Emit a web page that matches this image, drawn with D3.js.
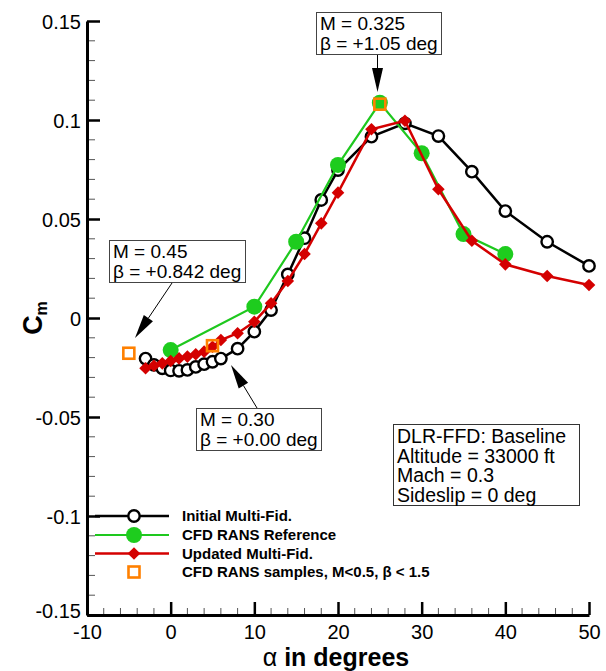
<!DOCTYPE html>
<html><head><meta charset="utf-8">
<script src="https://cdn.jsdelivr.net/npm/d3@7"></script>
<style>html,body{margin:0;padding:0;background:#fff;}svg{display:block;font-family:"Liberation Sans",Arial,sans-serif;}</style>
</head><body><svg id="c" width="606" height="671"></svg>
<script>
// ---- data ----
const initAlpha = [-3,-2,-1,0,1,2,3,4,5,6,8,10,12,14,16,18,20,24,28,32,36,40,45,50];
const initCm = [-0.0205,-0.0237,-0.0254,-0.0265,-0.0267,-0.0262,-0.0247,-0.0233,-0.0221,-0.0205,-0.0155,-0.0069,0.004,0.022,0.0403,0.0596,0.0747,0.0916,0.0983,0.0919,0.0739,0.054,0.0385,0.0263];
const cfdAlpha = [0,10,15,20,25,30,35,40];
const cfdCm = [-0.0162,0.0057,0.0385,0.0773,0.1087,0.0832,0.0424,0.0323];
const updAlpha = [-3,-2,-1,0,1,2,3,4,5,6,8,10,12,14,16,18,20,24,28,32,36,40,45,50];
const updCm = [-0.0254,-0.0241,-0.0229,-0.0217,-0.0204,-0.0195,-0.0183,-0.017,-0.0145,-0.0111,-0.0077,-0.0019,0.0074,0.0187,0.0323,0.0478,0.0633,0.0953,0.0996,0.065,0.039,0.0271,0.0212,0.0167];
const sampAlpha = [-5,5,25];
const sampCm = [-0.0178,-0.014,0.108];
const xTicks = [-10,0,10,20,30,40,50];
const yTicks = [-0.15,-0.1,-0.05,0,0.05,0.1,0.15];
const xTickLabels = ["-10","0","10","20","30","40","50"];
const yTickLabels = ["-0.15","-0.1","-0.05","0","0.05","0.1","0.15"];
const legendLabels = ["Initial Multi-Fid.","CFD RANS Reference","Updated Multi-Fid.","CFD RANS samples, M<0.5, \u03B2 < 1.5"];
const infoLines = ["DLR-FFD: Baseline","Altitude = 33000 ft","Mach = 0.3","Sideslip = 0 deg"];

const svg = d3.select("#c");
const x = d3.scaleLinear().domain([-10,50]).range([87,589]);
const y = d3.scaleLinear().domain([-0.15,0.15]).range([615,21]);

// minor ticks
const xMinor = d3.range(-10,50.01,2).filter(v=>xTicks.indexOf(v)<0);
const yMinor = d3.range(-15,15.01,1).map(v=>v/100).filter(v=>!yTicks.some(t=>Math.abs(t-v)<1e-9));
svg.append("g").selectAll("line").data(xMinor).join("line")
  .attr("x1",d=>x(d)).attr("x2",d=>x(d)).attr("y1",y(-0.15)).attr("y2",y(-0.15)-7)
  .attr("stroke","#555").attr("stroke-width",1);
svg.append("g").selectAll("line").data(yMinor).join("line")
  .attr("y1",d=>y(d)).attr("y2",d=>y(d)).attr("x1",x(-10)).attr("x2",x(-10)+8)
  .attr("stroke","#555").attr("stroke-width",1);

// axes via d3 axis (inward ticks)
const xAxis = svg.append("g").attr("transform",`translate(0,${y(-0.15)})`)
  .call(d3.axisTop(x).tickValues(xTicks).tickSize(13).tickSizeOuter(0).tickFormat((d,i)=>xTickLabels[i]));
xAxis.select(".domain").attr("stroke","#000").attr("stroke-width",3);
xAxis.selectAll(".tick line").attr("stroke","#000").attr("stroke-width",2.5);
xAxis.selectAll(".tick text").attr("y",23.5).attr("dy",0).attr("font-size",20)
  .attr("font-family","Liberation Sans, Arial, sans-serif").attr("fill","#000");

const yAxis = svg.append("g").attr("transform",`translate(${x(-10)},0)`)
  .call(d3.axisRight(y).tickValues(yTicks).tickSize(13).tickSizeOuter(0).tickFormat((d,i)=>yTickLabels[i]));
yAxis.select(".domain").attr("stroke","#000").attr("stroke-width",3);
yAxis.selectAll(".tick line").attr("stroke","#000").attr("stroke-width",2.5);
yAxis.selectAll(".tick text").attr("x",-6).attr("text-anchor","end").attr("dy","0.35em")
  .attr("font-size",20).attr("font-family","Liberation Sans, Arial, sans-serif").attr("fill","#000");
yAxis.selectAll(".tick").filter(d=>d===-0.15).select("text").attr("dy","0.1em");

// axis titles
svg.append("text").attr("x",336).attr("y",666).attr("text-anchor","middle")
  .attr("font-size",25).attr("font-weight","bold")
  .call(t=>{t.append("tspan").attr("font-weight","normal").text("\u03B1");t.append("tspan").text(" in degrees");});
const yl = svg.append("text").attr("transform","translate(42,318) rotate(-90)").attr("text-anchor","middle")
  .attr("font-size",27).attr("font-weight","bold");
yl.append("tspan").text("C");
yl.append("tspan").attr("font-size",16).attr("dy",5).text("m");

// series
const line = d3.line();
function pts(a,c){return a.map((v,i)=>[x(v),y(c[i])]);}
const dia = "M0,-6.3L6.3,0L0,6.3L-6.3,0Z";

// initial
svg.append("path").attr("d",line(pts(initAlpha,initCm))).attr("fill","none").attr("stroke","#000").attr("stroke-width",2.5);
svg.append("g").selectAll("circle").data(pts(initAlpha,initCm)).join("circle")
  .attr("cx",d=>d[0]).attr("cy",d=>d[1]).attr("r",5.7).attr("fill","#fff").attr("stroke","#000").attr("stroke-width",2.4);
// cfd
svg.append("path").attr("d",line(pts(cfdAlpha,cfdCm))).attr("fill","none").attr("stroke","#1ec81e").attr("stroke-width",2.2);
svg.append("g").selectAll("circle").data(pts(cfdAlpha,cfdCm)).join("circle")
  .attr("cx",d=>d[0]).attr("cy",d=>d[1]).attr("r",8).attr("fill","#1ecc1e");
// updated
svg.append("path").attr("d",line(pts(updAlpha,updCm))).attr("fill","none").attr("stroke","#d40000").attr("stroke-width",2.5);
svg.append("g").selectAll("path").data(pts(updAlpha,updCm)).join("path")
  .attr("transform",d=>`translate(${d[0]},${d[1]})`).attr("d",dia).attr("fill","#d40000");
// samples
svg.append("g").selectAll("rect").data(pts(sampAlpha,sampCm)).join("rect")
  .attr("x",d=>d[0]-5.5).attr("y",d=>d[1]-5.5).attr("width",11).attr("height",11)
  .attr("fill","none").attr("stroke","#ff8000").attr("stroke-width",2.6);

// legend
const lg = svg.append("g");
const rowsY = [516,535,553.5,572];
lg.append("line").attr("x1",95).attr("x2",169).attr("y1",rowsY[0]).attr("y2",rowsY[0]).attr("stroke","#000").attr("stroke-width",2.5);
lg.append("circle").attr("cx",134).attr("cy",rowsY[0]).attr("r",5.7).attr("fill","#fff").attr("stroke","#000").attr("stroke-width",2.4);
lg.append("line").attr("x1",95).attr("x2",169).attr("y1",rowsY[1]).attr("y2",rowsY[1]).attr("stroke","#1ec81e").attr("stroke-width",2.2);
lg.append("circle").attr("cx",134).attr("cy",rowsY[1]).attr("r",8).attr("fill","#1ecc1e");
lg.append("line").attr("x1",95).attr("x2",169).attr("y1",rowsY[2]).attr("y2",rowsY[2]).attr("stroke","#d40000").attr("stroke-width",2.5);
lg.append("path").attr("transform",`translate(134,${rowsY[2]})`).attr("d",dia).attr("fill","#d40000");
lg.append("rect").attr("x",128.5).attr("y",rowsY[3]-5.5).attr("width",11).attr("height",11).attr("fill","none").attr("stroke","#ff8000").attr("stroke-width",2.6);
lg.selectAll("text").data(legendLabels).join("text").attr("x",182).attr("y",(d,i)=>rowsY[i]+5)
  .attr("font-size",15).attr("font-weight","bold").text(d=>d);

// info box
svg.append("rect").attr("x",393.5).attr("y",424.5).attr("width",186).attr("height",81).attr("fill","#fff").attr("stroke","#333").attr("stroke-width",1);
svg.selectAll(".info").data(infoLines).join("text").attr("class","info").attr("x",397).attr("y",(d,i)=>443+i*19.7)
  .attr("font-size",19.5).text(d=>d);

// annotations
function annot(bx,by,bw,bh,lines,x1,y1,tx,ty){
  svg.append("rect").attr("x",bx+.5).attr("y",by+.5).attr("width",bw).attr("height",bh).attr("fill","#fff").attr("stroke","#444").attr("stroke-width",1);
  lines.forEach((l,i)=>svg.append("text").attr("x",bx+4).attr("y",by+18+i*19.5).attr("font-size",19).text(l));
  const ang=Math.atan2(ty-y1,tx-x1), L=24, W=5.5;
  const bxp=tx-L*Math.cos(ang), byp=ty-L*Math.sin(ang);
  svg.append("line").attr("x1",x1).attr("y1",y1).attr("x2",bxp).attr("y2",byp).attr("stroke","#000").attr("stroke-width",1);
  const px=-Math.sin(ang), py=Math.cos(ang);
  svg.append("path").attr("d",`M${tx},${ty}L${bxp+px*W},${byp+py*W}L${bxp-px*W},${byp-py*W}Z`).attr("fill","#000");
}
annot(316,12,125,42,["M = 0.325","\u03B2 = +1.05 deg"],377.5,55,377.5,92);
annot(109,240,136,42,["M = 0.45","\u03B2 = +0.842 deg"],172,283,135,338);
annot(196,408,125,42,["M = 0.30","\u03B2 = +0.00 deg"],257,408,231,365);
</script></body></html>
